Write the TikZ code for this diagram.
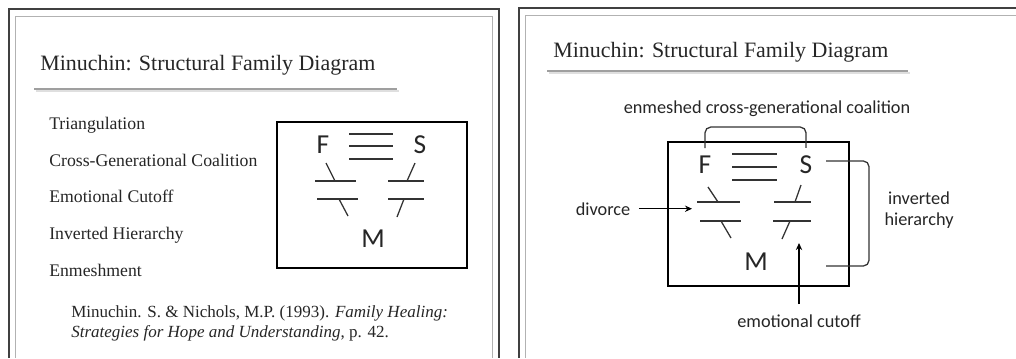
\documentclass[tikz,border=0pt]{standalone}
\usepackage{fontspec}
\setmainfont{Liberation Serif}
\newfontfamily\calfont{Carlito}
\usetikzlibrary{arrows.meta}

\begin{document}
\begin{tikzpicture}[x=0.025cm, y=-0.025cm,
  every node/.style={inner sep=0pt, text=black!85},
  slidetitle/.style={font=\fontsize{15.6}{18}\selectfont, anchor=base west},
  item/.style={font=\fontsize{12.6}{15}\selectfont, anchor=base west},
  citeline/.style={font=\fontsize{12.1}{15}\selectfont, anchor=base west},
  member/.style={font=\calfont\fontsize{19.5}{22}\selectfont, anchor=base},
  lbl/.style={font=\calfont\fontsize{13}{15}\selectfont, anchor=base},
  outerframe/.style={line width=1.2pt, black!75},
  innerframe/.style={line width=0.6pt, gray!60},
  rule/.style={line width=0.9pt, gray!75},
  famline/.style={line width=1.4pt},
  tie/.style={line width=0.9pt, black!80},
  pointer/.style={line width=1pt, -{Stealth[length=5pt,width=4.5pt]}}]

\useasboundingbox (0,0) rectangle (1016,358);
\fill[white] (0,0) rectangle (1016,358);

% left slide
\draw[outerframe] (9,358) -- (9,9) -- (499,9) -- (499,358);
\draw[innerframe] (15,358) -- (15,16) -- (492,16) -- (492,358);

\node[slidetitle] (leftTitle) at (40,70) {Minuchin: Structural Family Diagram};
\draw[gray!25, line width=1pt] (36,91) -- (399,91);
\draw[rule] (34,89) -- (397,89);

\node[item] (triang) at (49,129) {Triangulation};
\node[item] (coalition) at (49,166) {Cross-Generational Coalition};
\node[item] (cutoffItem) at (49,202) {Emotional Cutoff};
\node[item] (invItem) at (49,239) {Inverted Hierarchy};
\node[item] (enmesh) at (49,276) {Enmeshment};

\node[citeline] (cite1) at (71,317) {Minuchin. S. \& Nichols, M.P. (1993). \textit{Family Healing:}};
\node[citeline] (cite2) at (71,337) {\textit{Strategies for Hope and Understanding}, p. 42.};

\draw[famline] (277,122) rectangle (467,268);

\node[member] (F) at (323,153) {F};
\node[member] (S) at (420,153) {S};
\node[member] (M) at (373,247) {M};

% enmeshed
\draw[tie] (349,134) -- (393,134);
\draw[tie] (349,146) -- (393,146);
\draw[tie] (349,159) -- (393,159);

% divorce
\draw[tie] (315,181) -- (356,181);
\draw[tie] (326,163) -- (335,181);
\draw[tie] (317,199) -- (358,199);
\draw[tie] (339,199) -- (348,216);

% cutoff
\draw[tie] (388,181) -- (424,181);
\draw[tie] (415,163) -- (407,181);
\draw[tie] (388,199) -- (424,199);
\draw[tie] (404,199) -- (397,217);

% right slide
\draw[outerframe] (519,358) -- (519,8) -- (1016,8);
\draw[innerframe] (525,358) -- (525,15) -- (1016,15);

\node[slidetitle] (rightTitle) at (553,57) {Minuchin: Structural Family Diagram};
\draw[gray!25, line width=1pt] (549,73) -- (910,73);
\draw[rule] (547,71) -- (908,71);

\node[lbl] (coalLabel) at (767,113) {enmeshed cross-generational coalition};

\draw[famline] (668,142) rectangle (849,286);

\node[member] (F2) at (705,173) {F};
\node[member] (S2) at (806,173) {S};
\node[member] (M2) at (756,270) {M};

% enmeshed
\draw[tie] (732,154) -- (777,154);
\draw[tie] (732,167) -- (777,167);
\draw[tie] (732,180) -- (777,180);

% divorce
\draw[tie] (697,202) -- (740,202);
\draw[tie] (708,187) -- (718,202);
\draw[tie] (700,221) -- (741,221);
\draw[tie] (721,221) -- (731,238);

% cutoff
\draw[tie] (774,202) -- (811,202);
\draw[tie] (801,185) -- (795,202);
\draw[tie] (773,221) -- (811,221);
\draw[tie] (790,221) -- (782,239);

% coalition bracket
\draw[tie, rounded corners=4] ([yshift=5pt]F2.north) -- ++(0,-21) -| ([yshift=5pt]S2.north);

% divorce arrow
\node[lbl] (divLabel) at (603,215) {divorce};
\coordinate (divTip) at (692,210);
\draw[pointer] ([xshift=6pt]divLabel.east) -- (divLabel.east -| divTip);

% inverted hierarchy bracket
\coordinate (hierTop) at (826,161);
\coordinate (hierBot) at (826,266);
\draw[tie, rounded corners=4] (hierTop) -- ++(43,0) |- (hierBot);
\node[lbl] (invLabel1) at (919,204) {inverted};
\node[lbl] (invLabel2) at (919,225) {hierarchy};

% emotional cutoff arrow
\node[lbl] (cutLabel) at (799,327) {emotional cutoff};
\coordinate (cutTip) at (800,243);
\draw[pointer] ([yshift=7pt]cutLabel.north) -- (cutLabel.north |- cutTip);

\end{tikzpicture}
\end{document}
